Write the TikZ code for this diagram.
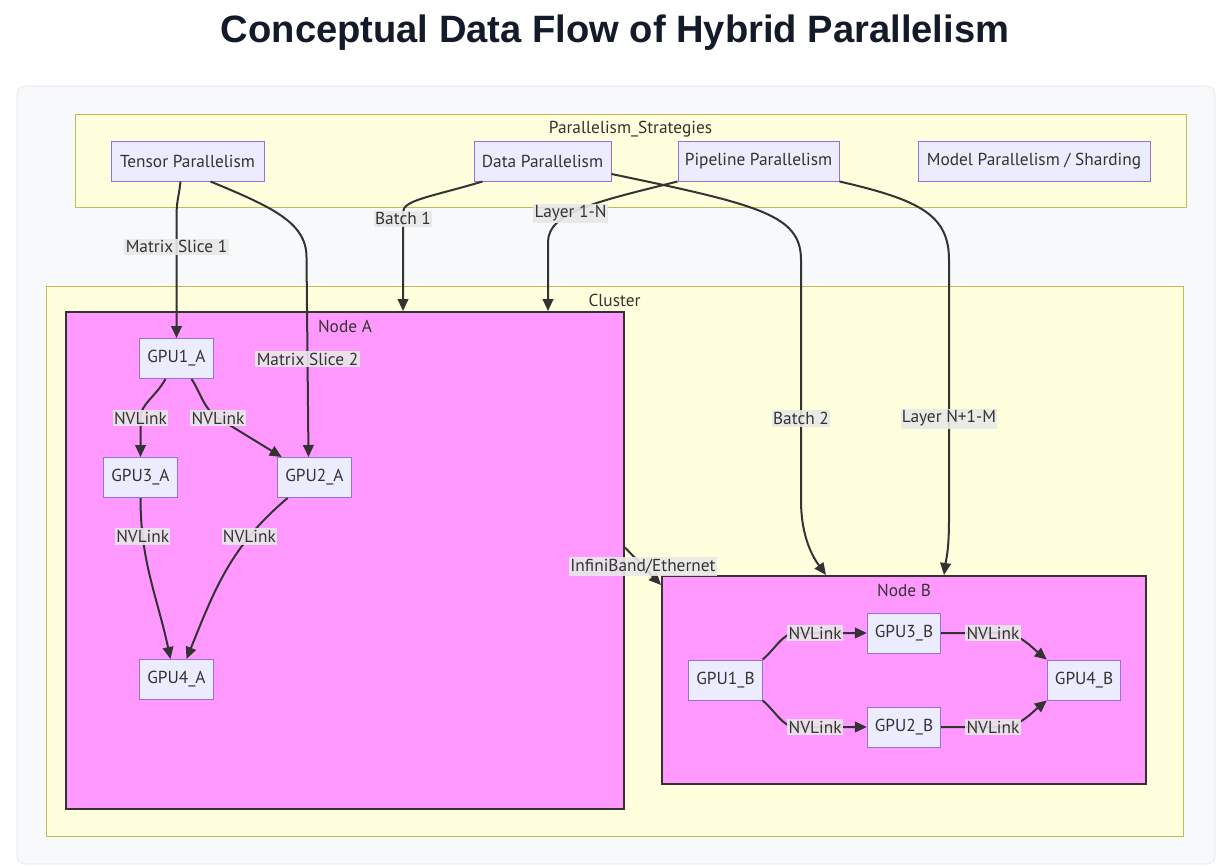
\documentclass[tikz,border=0pt]{standalone}
\usepackage{fontspec}
\setmainfont{PT Sans}
\newfontfamily\headfont{Liberation Sans}
\usetikzlibrary{arrows.meta,calc}

\definecolor{panelfill}{HTML}{F8F9FB}
\definecolor{panelline}{HTML}{E2E4E8}
\definecolor{headink}{HTML}{131A29}
\definecolor{groupfill}{HTML}{FFFFDE}
\definecolor{groupline}{HTML}{BDBD55}
\definecolor{serverfill}{HTML}{FF99FF}
\definecolor{serverline}{HTML}{333333}
\definecolor{boxfill}{HTML}{ECECFF}
\definecolor{boxline}{HTML}{9370DB}
\definecolor{ink}{HTML}{333333}
\definecolor{labelfill}{HTML}{E8E8E8}

\tikzset{
  txt/.style={font=\fontsize{13}{15}\selectfont},
  box/.style={txt, draw=boxline, fill=boxfill, line width=0.75pt, text=ink,
    minimum height=30pt, inner xsep=3pt},
  gpubox/.style={box, minimum width=56pt},
  group/.style={draw=groupline, fill=groupfill, line width=0.75pt},
  server/.style={draw=serverline, fill=serverfill, line width=1.5pt},
  grouptitle/.style={txt, text=ink, anchor=north, yshift=-2pt},
  flow/.style={draw=ink, line width=1.5pt, -{Triangle[length=9pt,width=8pt]}},
  elabel/.style={txt, fill=labelfill, fill opacity=0.9, text opacity=1, text=ink,
    inner xsep=1pt, inner ysep=1.5pt}
}

\begin{document}
\begin{tikzpicture}[x=0.75pt,y=-0.75pt]
\useasboundingbox (0,0) rectangle (1231,867);
\fill[white] (0,0) rectangle (1231,867);
\draw[panelline, fill=panelfill, rounded corners=6pt] (17,86) rectangle (1215,864);

\node[font=\headfont\bfseries\fontsize{28.6}{32}\selectfont, text=headink] (title) at (615,33)
  {Conceptual Data Flow of Hybrid Parallelism};

% subgraphs
\node[group, minimum width=833.25pt, minimum height=69.75pt,
  label={[grouptitle]north:Parallelism\_Strategies}] (strategies) at (630.5,160.5) {};
\node[group, minimum width=852.75pt, minimum height=412.5pt,
  label={[grouptitle, yshift=-1pt]north:Cluster}] (cluster) at (614.5,561) {};
\node[server, minimum width=418.5pt, minimum height=372.75pt,
  label={[grouptitle, yshift=-1pt]north:Node A}] (nodea) at (345,560.5) {};
\node[server, minimum width=363pt, minimum height=156pt,
  label={[grouptitle, yshift=-1pt]north:Node B}] (nodeb) at (904,680) {};

% strategies
\node[box, minimum width=114.75pt] (tensor) at (187.5,161) {Tensor Parallelism};
\node[box, minimum width=102.75pt] (data) at (542.5,161) {Data Parallelism};
\node[box, minimum width=120.75pt] (pipeline) at (758.5,161) {Pipeline Parallelism};
\node[box, minimum width=174pt] (model) at (1034,161) {Model Parallelism / Sharding};

% GPUs of node A
\node[gpubox] (gpu1a) at (176.5,358.5) {GPU1\_A};
\node[gpubox] (gpu3a) at (140.5,477.5) {GPU3\_A};
\node[gpubox] (gpu2a) at (314.5,477.5) {GPU2\_A};
\node[gpubox] (gpu4a) at (176.5,679.5) {GPU4\_A};

% GPUs of node B
\node[gpubox, minimum width=55pt] (gpu1b) at (725.5,680) {GPU1\_B};
\node[gpubox, minimum width=55pt] (gpu3b) at (904,633) {GPU3\_B};
\node[gpubox, minimum width=55pt] (gpu2b) at (904,727) {GPU2\_B};
\node[gpubox, minimum width=55pt] (gpu4b) at (1084,680) {GPU4\_B};

% strategy flows
\draw[flow] ($(tensor.south)+(-7,0)$) .. controls +(-2,18) and +(0,-18) .. (176.5,218)
  -- (gpu1a.north) node[elabel, pos=0.24] {Matrix Slice 1};
\draw[flow] ($(tensor.south)+(23,0)$) .. controls +(60,25) and +(0,-35) .. (306.5,257)
  -- ($(gpu2a.north)+(-6,0)$) node[elabel, pos=0.51] {Matrix Slice 2};
\draw[flow] ($(data.south)+(-60,0)$) .. controls +(-50,15) and +(0,-12) .. (403,212)
  -- ($(nodea.north)+(58,0)$) node[elabel, pos=0.07] {Batch 1};
\draw[flow] (pipeline.south west) .. controls +(-80,20) and +(0,-30) .. (548,242)
  node[elabel, pos=0.6] {Layer 1-N} -- ($(nodea.north)+(203,0)$);
\draw[flow] ($(data.east)+(0,13)$) .. controls (760,205) and (801,215) .. (801,260)
  -- (801,500) node[elabel, pos=0.66] {Batch 2}
  .. controls (801,540) and (815,560) .. ($(nodeb.north)+(-78,0)$);
\draw[flow] (pipeline.south east) .. controls (920,200) and (949,215) .. (949,260)
  -- (949,520) node[elabel, pos=0.61] {Layer N+1-M}
  .. controls (949,550) and (946,560) .. ($(nodeb.north)+(40,0)$);

% NVLink inside node A
\draw[flow] ($(gpu1a.south)+(-11,0)$) .. controls +(-10,18) and +(0,-14) .. (140.5,418)
  node[elabel] {NVLink} -- (gpu3a.north);
\draw[flow] ($(gpu1a.south)+(15,0)$) .. controls +(10,15) and +(-15,-10) .. (218,418)
  node[elabel] {NVLink} -- ($(gpu2a.north west)+(5,0)$);
\draw[flow] (gpu3a.south) to[out=-90,in=102] node[elabel, pos=0.22] {NVLink}
  ($(gpu4a.north)+(-6,0)$);
\draw[flow] ($(gpu2a.south west)+(11,0)$) to[out=-140,in=68] node[elabel, pos=0.27] {NVLink}
  ($(gpu4a.north)+(10,0)$);

% NVLink inside node B
\draw[flow] (gpu1b.north east) .. controls +(12,-10) and +(-12,0) .. (795,633)
  -- (gpu3b.west) node[elabel, pos=0.28] {NVLink};
\draw[flow] (gpu1b.south east) .. controls +(12,10) and +(-12,0) .. (795,727)
  -- (gpu2b.west) node[elabel, pos=0.28] {NVLink};
\draw[flow] (gpu3b.east) -- (1000,633) node[elabel, pos=0.88] {NVLink}
  .. controls +(20,0) and +(-15,-12) .. (gpu4b.north west);
\draw[flow] (gpu2b.east) -- (1000,727) node[elabel, pos=0.88] {NVLink}
  .. controls +(20,0) and +(-15,12) .. (gpu4b.south west);

% between servers
\draw[flow] ($(nodea.east)+(0,-13)$) -- node[elabel] {InfiniBand/Ethernet}
  ($(nodeb.north west)+(0,10)$);
\end{tikzpicture}
\end{document}
